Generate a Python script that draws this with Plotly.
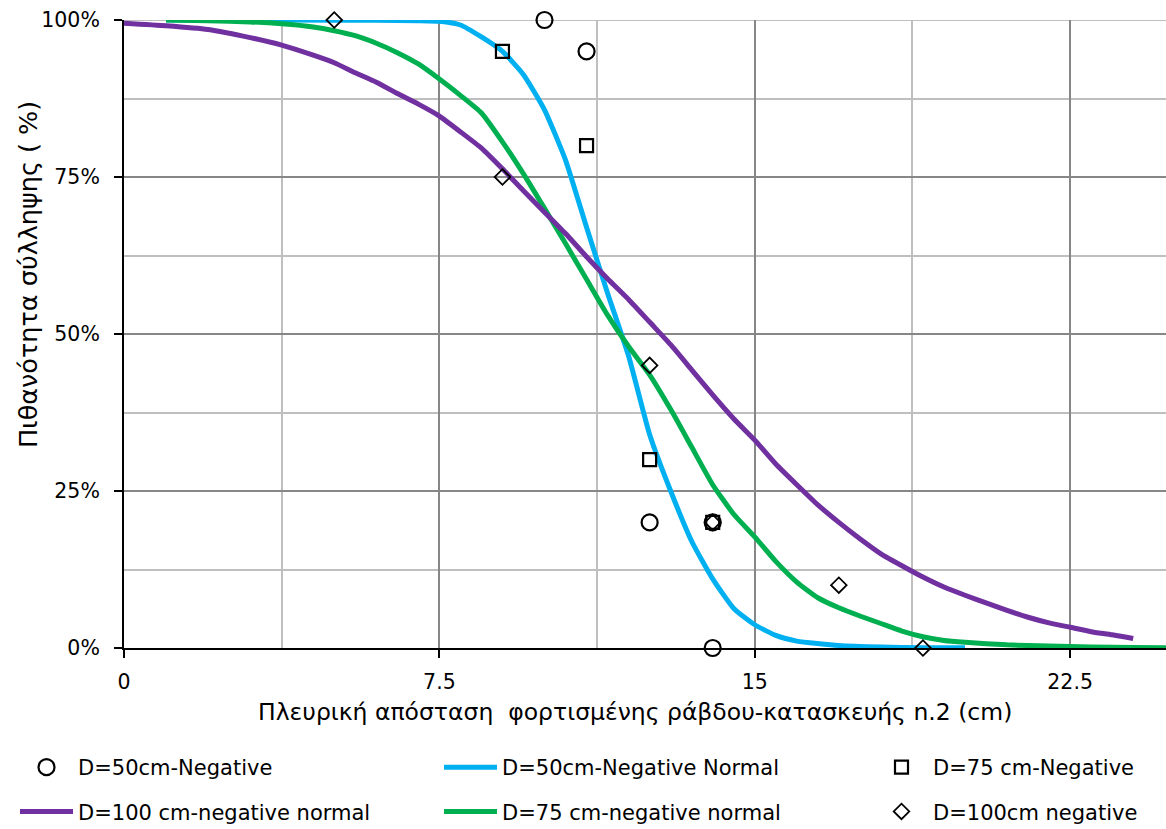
import plotly.graph_objects as go

# ---- data ----
# scatter observations (x in cm, y in fraction)
d50_neg_x = [10, 11, 12.5, 14, 14]
d50_neg_y = [1.00, 0.95, 0.20, 0.20, 0.00]

d75_neg_x = [9, 11, 12.5, 14]
d75_neg_y = [0.95, 0.80, 0.30, 0.20]

d100_neg_x = [5, 9, 12.5, 14, 17, 19]
d100_neg_y = [1.00, 0.75, 0.45, 0.20, 0.10, 0.00]

# fitted "normal" curves
d50_norm_x = [1, 4, 6, 7, 7.5, 8, 8.5, 9, 9.5, 10, 10.5, 11, 11.5, 12, 12.5, 13,
              13.5, 14, 14.5, 15, 15.5, 16, 17, 18, 19, 20]
d50_norm_y = [1.000, 1.000, 0.9995, 0.999, 0.998, 0.992, 0.973, 0.950, 0.913, 0.857,
              0.777, 0.670, 0.565, 0.465, 0.340, 0.250, 0.170, 0.110, 0.063, 0.037,
              0.020, 0.011, 0.004, 0.0015, 0.0005, 0.0002]

d75_norm_x = [1, 2, 3, 3.75, 4.5, 5, 5.5, 6, 6.5, 7, 7.5, 8, 8.5, 9, 9.5, 10, 10.5,
              11, 11.5, 12, 12.5, 13, 13.5, 14, 14.5, 15, 15.5, 16, 16.5, 17, 17.5,
              18, 18.5, 19, 19.5, 20, 21, 22, 23, 24, 25]
d75_norm_y = [1.000, 0.999, 0.997, 0.994, 0.989, 0.983, 0.975, 0.963, 0.948, 0.930,
              0.906, 0.880, 0.852, 0.806, 0.755, 0.700, 0.644, 0.587, 0.530, 0.480,
              0.435, 0.380, 0.320, 0.260, 0.213, 0.177, 0.138, 0.105, 0.080, 0.064,
              0.051, 0.039, 0.027, 0.018, 0.012, 0.009, 0.005, 0.003, 0.0015, 0.0008,
              0.0005]

d100_norm_x = [0, 1, 2, 3, 3.75, 4.5, 5, 5.5, 6, 6.5, 7, 7.5, 8, 8.5, 9, 9.5, 10,
               10.5, 11, 11.5, 12, 12.5, 13, 13.5, 14, 14.5, 15, 15.5, 16, 16.5, 17,
               17.5, 18, 18.5, 19, 19.5, 20, 20.5, 21, 21.5, 22, 22.5, 23, 23.5, 24]
d100_norm_y = [0.995, 0.991, 0.985, 0.972, 0.960, 0.944, 0.932, 0.916, 0.901, 0.883,
               0.866, 0.847, 0.822, 0.796, 0.763, 0.728, 0.694, 0.660, 0.623, 0.588,
               0.555, 0.519, 0.483, 0.443, 0.403, 0.365, 0.331, 0.293, 0.260, 0.228,
               0.200, 0.174, 0.150, 0.131, 0.113, 0.097, 0.084, 0.072, 0.060, 0.049,
               0.040, 0.033, 0.026, 0.021, 0.015]

x_tickvals = [0, 7.5, 15, 22.5]
x_ticktext = ["0", "7.5", "15", "22.5"]
y_tickvals = [0, 0.25, 0.5, 0.75, 1.0]
y_ticktext = ["0%", "25%", "50%", "75%", "100%"]

BLUE = "#00B0F0"
GREEN = "#00B050"
PURPLE = "#7030A0"
FONT = "DejaVu Sans"
FS = 20.5
FS_LEG = 21

FIG_W, FIG_H = 1166, 829

fig = go.Figure()

line_style = dict(width=5, shape="spline", smoothing=0.5)
fig.add_trace(go.Scatter(x=d50_norm_x, y=d50_norm_y, mode="lines",
                         name="D=50cm-Negative Normal", legend="legend2",
                         legendgroup="b", legendrank=1,
                         line=dict(color=BLUE, **line_style)))
fig.add_trace(go.Scatter(x=d75_norm_x, y=d75_norm_y, mode="lines",
                         name="D=75 cm-negative normal", legend="legend2",
                         legendgroup="g", legendrank=2,
                         line=dict(color=GREEN, **line_style)))
fig.add_trace(go.Scatter(x=d100_norm_x, y=d100_norm_y, mode="lines",
                         name="D=100 cm-negative normal", legend="legend",
                         legendgroup="p", legendrank=2,
                         line=dict(color=PURPLE, **line_style)))

fig.add_trace(go.Scatter(x=d50_neg_x, y=d50_neg_y, mode="markers",
                         name="D=50cm-Negative", legend="legend",
                         legendgroup="c", legendrank=1, cliponaxis=False,
                         marker=dict(symbol="circle-open", size=16, color="black",
                                     line=dict(width=2.2, color="black"))))
fig.add_trace(go.Scatter(x=d75_neg_x, y=d75_neg_y, mode="markers",
                         name="D=75 cm-Negative", legend="legend3",
                         legendgroup="s", legendrank=1, cliponaxis=False,
                         marker=dict(symbol="square-open", size=13, color="black",
                                     line=dict(width=2.2, color="black"))))
fig.add_trace(go.Scatter(x=d100_neg_x, y=d100_neg_y, mode="markers",
                         name="D=100cm negative", legend="legend3",
                         legendgroup="d", legendrank=2, cliponaxis=False,
                         marker=dict(symbol="diamond-open", size=12, color="black",
                                     line=dict(width=1.8, color="black"))))

legend_common = dict(orientation="v", xanchor="left", yanchor="top",
                     xref="container", yref="container",
                     font=dict(family=FONT, size=FS_LEG, color="black"),
                     itemwidth=53, tracegroupgap=14, traceorder="grouped",
                     bgcolor="rgba(0,0,0,0)", borderwidth=0)
LEG_Y = 1 - 747 / FIG_H

fig.update_layout(
    width=FIG_W, height=FIG_H,
    margin=dict(l=124, r=0, t=20, b=181, autoexpand=False),
    paper_bgcolor="white", plot_bgcolor="white",
    font=dict(family=FONT, size=FS, color="black"),
    showlegend=True,
    legend=dict(x=15 / FIG_W, y=LEG_Y, **legend_common),
    legend2=dict(x=439 / FIG_W, y=LEG_Y, **legend_common),
    legend3=dict(x=870 / FIG_W, y=LEG_Y, **legend_common),
    xaxis=dict(range=[0, 24.78], tickvals=x_tickvals, ticktext=x_ticktext,
               showgrid=True, gridcolor="#878787", gridwidth=2,
               minor=dict(dtick=3.75, tick0=0, showgrid=True,
                          gridcolor="#BFBFBF", gridwidth=2),
               showline=True, linecolor="black", linewidth=2,
               ticks="outside", ticklen=8, tickwidth=2, tickcolor="black",
               zeroline=False, layer="below traces", automargin=False,
               ticklabelstandoff=6,
               tickfont=dict(family=FONT, size=FS, color="black")),
    yaxis=dict(range=[0, 1], tickvals=y_tickvals, ticktext=y_ticktext,
               showgrid=True, gridcolor="#878787", gridwidth=2,
               minor=dict(dtick=0.125, tick0=0, showgrid=True,
                          gridcolor="#BFBFBF", gridwidth=2),
               showline=True, linecolor="black", linewidth=2,
               ticks="outside", ticklen=8, tickwidth=2, tickcolor="black",
               zeroline=False, layer="below traces", automargin=False,
               ticklabelstandoff=10,
               tickfont=dict(family=FONT, size=FS, color="black")),
    shapes=[dict(type="line", xref="paper", yref="y", x0=0, x1=1, y0=1, y1=1,
                 line=dict(color="#BFBFBF", width=2), layer="between")],
    annotations=[
        dict(text="Πιθανότητα σύλληψης ( %)", textangle=-90,
             xref="paper", yref="paper", x=-0.092, y=0.594,
             xanchor="center", yanchor="middle", showarrow=False,
             font=dict(family=FONT, size=25.5, color="black")),
        dict(text="Πλευρική απόσταση\u00a0 φορτισμένης ράβδου-κατασκευής n.2 (cm)",
             xref="paper", yref="paper", x=0.4904, y=-0.102,
             xanchor="center", yanchor="middle", showarrow=False,
             font=dict(family=FONT, size=23.5, color="black")),
    ],
)

# remove the browser's default 8px body margin so the figure fills the window
fig.write_html("out.html",
               config={"displayModeBar": False},
               post_script="document.body.style.margin='0';"
                           "document.body.style.overflow='hidden';")
